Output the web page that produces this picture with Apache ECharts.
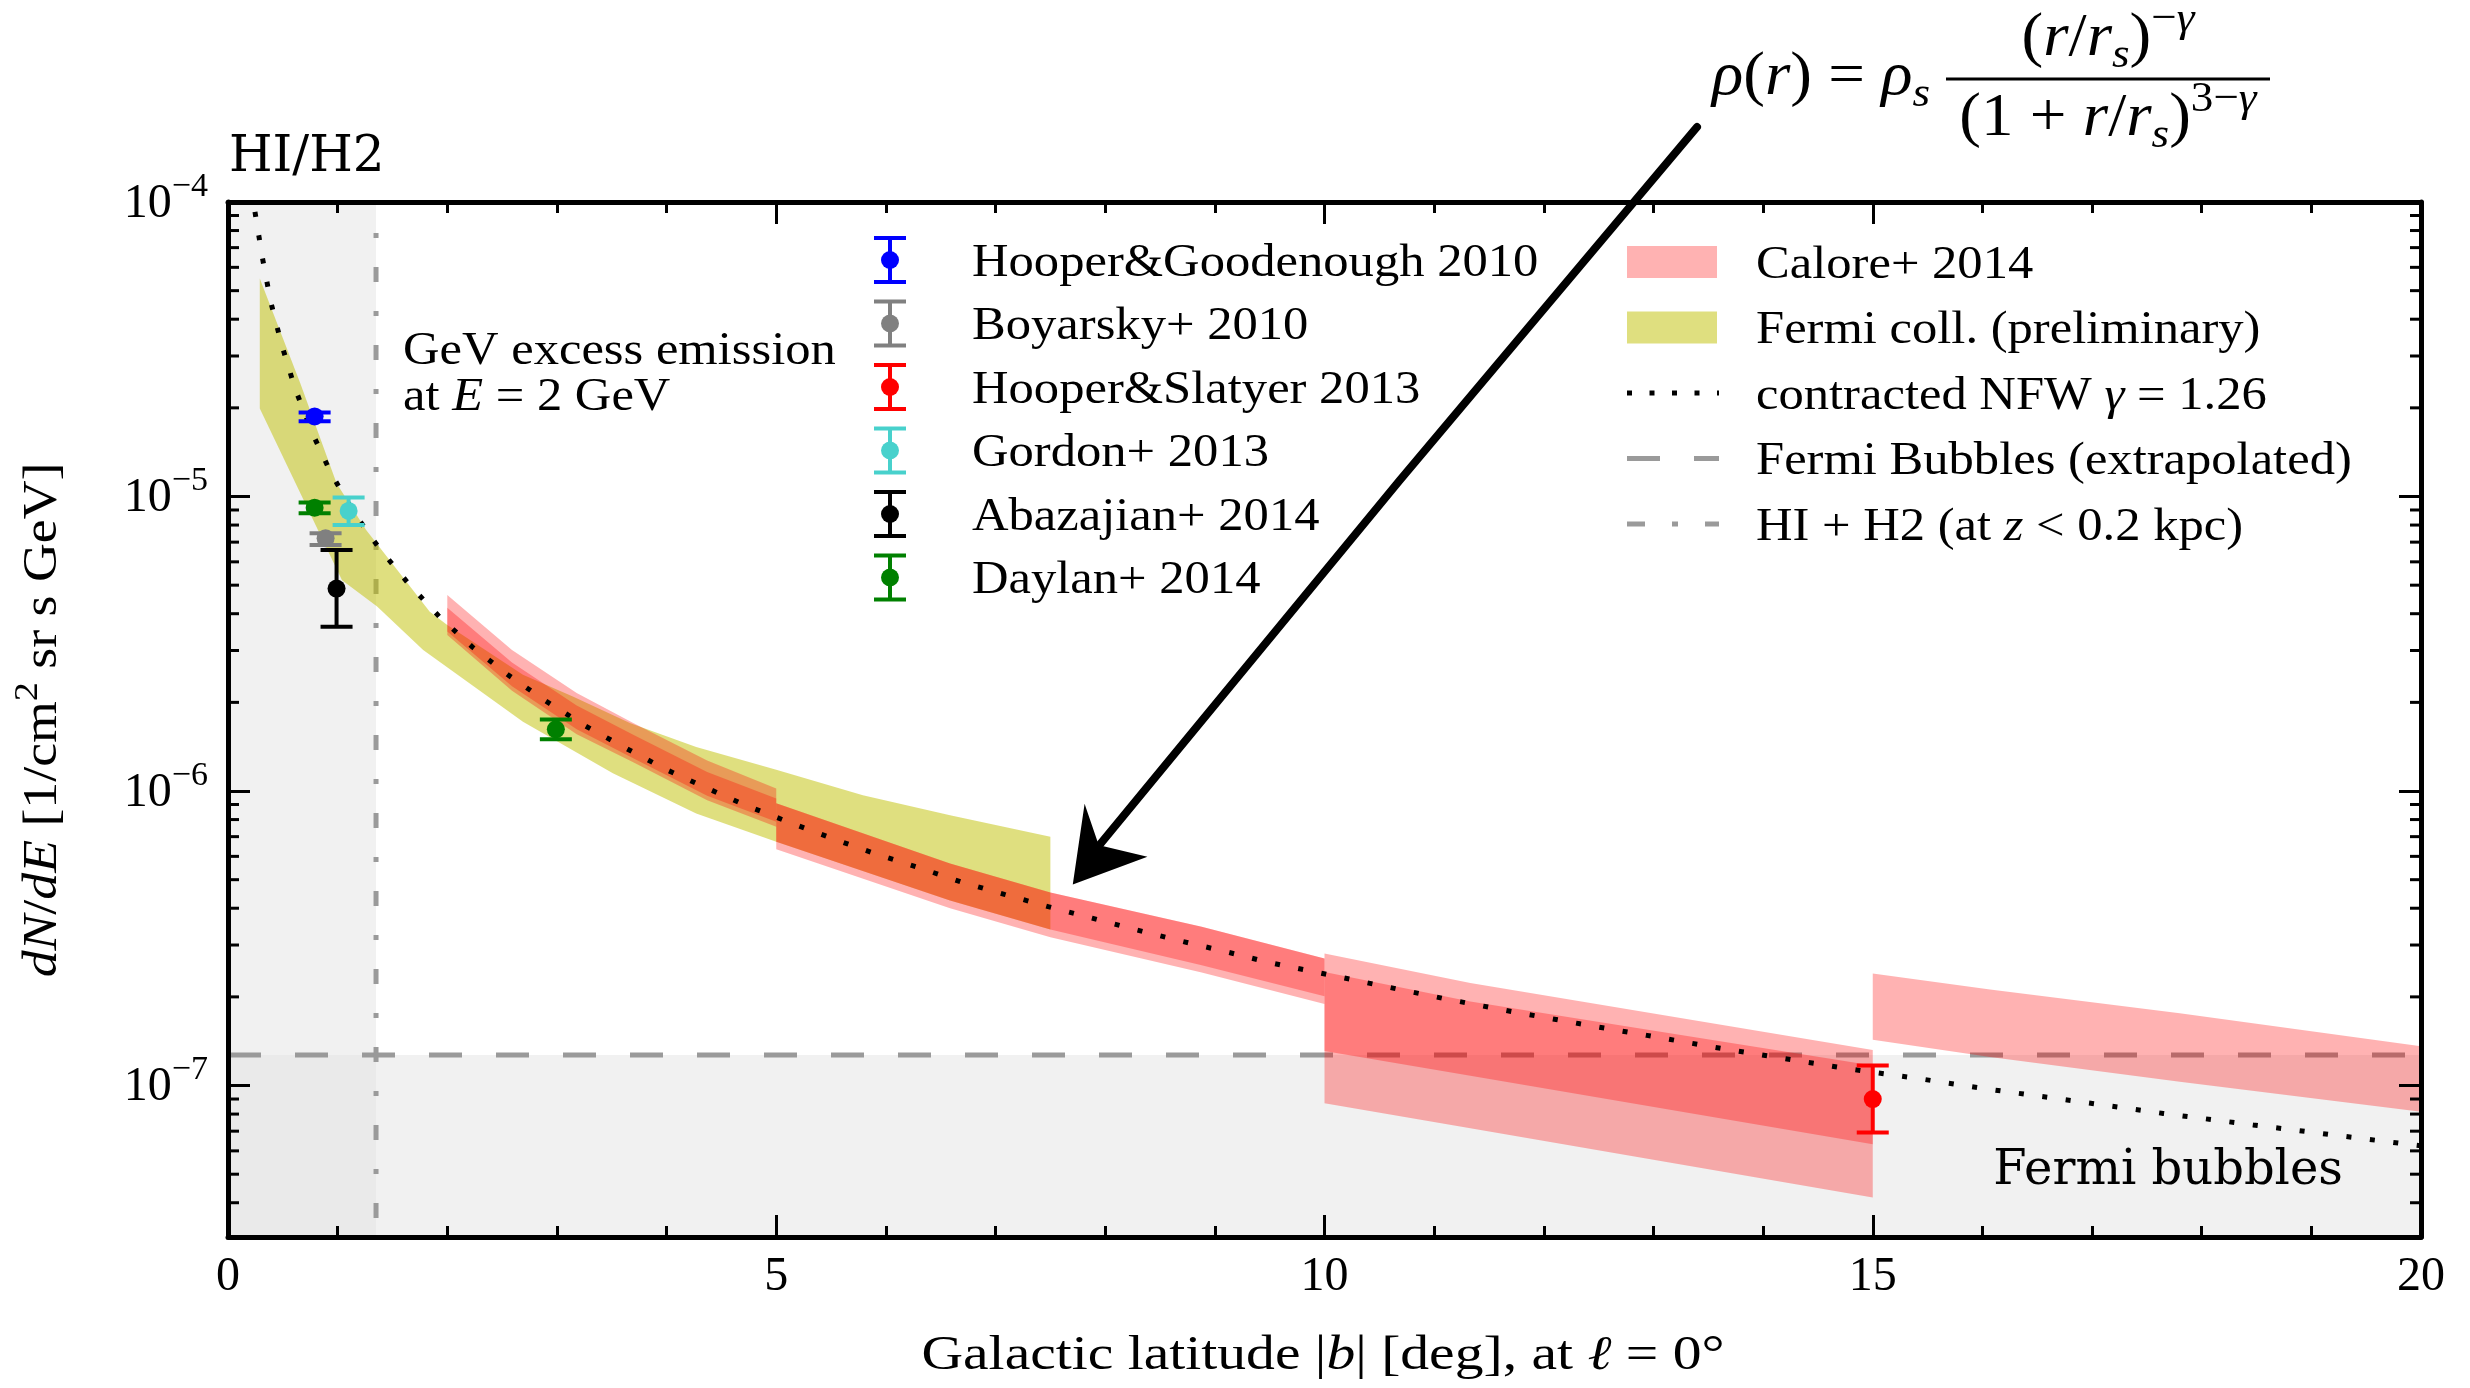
<!DOCTYPE html>
<html><head><meta charset="utf-8">
<script src="https://cdn.jsdelivr.net/npm/echarts@6/dist/echarts.min.js"></script>
<style>html,body{margin:0;padding:0;background:#fff}#c{width:2470px;height:1388px}</style>
</head><body><div id="c"></div><script>
// ---------------- DATA ----------------
const xTickValues = [0, 5, 10, 15, 20];
const yMin = 3.06e-8, yMax = 1e-4;
const yMinorTicks = [4e-8,5e-8,6e-8,7e-8,8e-8,9e-8, 2e-7,3e-7,4e-7,5e-7,6e-7,7e-7,8e-7,9e-7,
  2e-6,3e-6,4e-6,5e-6,6e-6,7e-6,8e-6,9e-6, 2e-5,3e-5,4e-5,5e-5,6e-5,7e-5,8e-5,9e-5];
const hiH2Edge = 1.35;          // HI + H2 (z < 0.2 kpc) boundary [deg]
const fermiBubbleLevel = 1.27e-7;

// contracted NFW gamma = 1.26 (dotted)
const nfwX = [0.246,0.313,0.389,0.49,0.611,0.763,0.937,1.143,1.38,1.644,1.927,2.23,2.56,2.90,3.25,3.61,3.98,4.35,4.73,5.12,5.51,5.89,6.29,6.68,7.08,7.48,7.88,8.28,8.68,9.08,9.49,9.89,10.5,11.1,11.72,12.33,12.94,13.55,14.16,14.78,15.39,16.01,16.83,17.65,18.47,19.29,20.0];
const nfwY = [9.25e-5,6.49e-5,4.59e-5,3.27e-5,2.33e-5,1.66e-5,1.205e-5,8.87e-6,6.67e-6,5.07e-6,3.91e-6,3.08e-6,2.47e-6,2.02e-6,1.67e-6,1.41e-6,1.19e-6,1.03e-6,8.91e-7,7.83e-7,6.90e-7,6.15e-7,5.51e-7,4.92e-7,4.46e-7,4.05e-7,3.70e-7,3.38e-7,3.10e-7,2.86e-7,2.62e-7,2.44e-7,2.19e-7,1.97e-7,1.78e-7,1.62e-7,1.48e-7,1.35e-7,1.24e-7,1.14e-7,1.06e-7,9.77e-8,8.87e-8,8.04e-8,7.35e-8,6.73e-8,6.24e-8];

// Fermi coll. (preliminary) band
const fermiTopX = [0.29,0.66,0.99,1.26,1.84,2.0,2.69,3.15,3.67,4.27,5.0,5.79,6.585,7.5];
const fermiTopY = [5.5e-5,2.42e-5,1.11e-5,7.69e-6,4.06e-6,3.66e-6,2.48e-6,2.09e-6,1.70e-6,1.41e-6,1.18e-6,9.68e-7,8.28e-7,7.0e-7];
const fermiBotX = [0.29,1.04,1.36,1.78,2.69,3.51,4.27,5.0,6.585,7.5];
const fermiBotY = [1.99e-5,5.2e-6,4.23e-6,3.01e-6,1.72e-6,1.15e-6,8.39e-7,6.73e-7,4.25e-7,3.39e-7];

// Calore+ 2014 bands (two overlapping translucent layers per latitude bin)
const calore2to5X = [2,2.59,3.18,3.70,4.37,5];
const calore2to5OuterHi = [4.63e-6,3.01e-6,2.15e-6,1.70e-6,1.27e-6,1.02e-6];
const calore2to5OuterLo = [3.39e-6,2.19e-6,1.56e-6,1.25e-6,9.3e-7,7.57e-7];
const calore2to5InnerHi = [4.19e-6,2.73e-6,1.95e-6,1.55e-6,1.16e-6,9.44e-7];
const calore2to5InnerLo = [3.48e-6,2.27e-6,1.62e-6,1.29e-6,9.64e-7,7.87e-7];

const calore5to10X = [5,6.585,7.5,8.88,10];
const calore5to10Hi = [9.08e-7,5.67e-7,4.52e-7,3.46e-7,2.7e-7];
const calore5to10OuterLo = [6.34e-7,4.0e-7,3.19e-7,2.42e-7,1.89e-7];
const calore5to10InnerLo = [6.73e-7,4.25e-7,3.39e-7,2.56e-7,2.01e-7];

const calore10to15X = [10,11.33,15];
const calore10to15OuterHi = [2.81e-7,2.23e-7,1.32e-7];
const calore10to15OuterLo = [8.7e-8,7.16e-8,4.17e-8];
const calore10to15InnerHi = [2.43e-7,1.93e-7,1.17e-7];
const calore10to15InnerLo = [1.31e-7,1.08e-7,6.32e-8];

const calore15to20X = [15,16.07,17.8,20];
const calore15to20Hi = [2.4e-7,2.12e-7,1.76e-7,1.36e-7];
const calore15to20Lo = [1.43e-7,1.25e-7,1.03e-7,8.15e-8];

// data points with error bars: [x, y, yLow, yHigh]
const hooperGoodenough2010 = [[0.79, 1.87e-5, 1.80e-5, 1.93e-5]];
const boyarsky2010 = [[0.89, 7.21e-6, 6.84e-6, 7.5e-6]];
const hooperSlatyer2013 = [[15.0, 9.0e-8, 6.93e-8, 1.17e-7]];
const gordon2013 = [[1.10, 8.93e-6, 8.0e-6, 9.93e-6]];
const abazajian2014 = [[0.99, 4.87e-6, 3.61e-6, 6.58e-6]];
const daylan2014 = [[0.79, 9.16e-6, 8.77e-6, 9.55e-6], [2.99, 1.62e-6, 1.50e-6, 1.75e-6]];

const legend1Names = ['Hooper&Goodenough 2010','Boyarsky+ 2010','Hooper&Slatyer 2013','Gordon+ 2013','Abazajian+ 2014','Daylan+ 2014'];
const legend2Names = ['Calore+ 2014','Fermi coll. (preliminary)','contracted NFW {i|γ}{n| = 1.26}','Fermi Bubbles (extrapolated)','HI + H2 (at {i|z}{n| < 0.2 kpc)}'];

// ---------------- STYLE ----------------
const FONT = '"Liberation Serif","Times New Roman",serif';
const RED = 'rgba(255,0,0,0.3)';
const YEL = 'rgba(191,191,0,0.5)';
const GRAYLINE = '#9a9a9a';
const pointColors = ['#0000ff','#808080','#ff0000','#48d1cc','#000000','#008000'];
const pointSets = [hooperGoodenough2010, boyarsky2010, hooperSlatyer2013, gordon2013, abazajian2014, daylan2014];

function richDefs(size) {
  const P = Math.round(size * 0.2), s = Math.round(size * 0.7);
  const base = {fontFamily: FONT, verticalAlign: 'bottom'};
  return {
    n: Object.assign({}, base, {fontSize: size, padding: [0,0,P,0]}),
    i: Object.assign({}, base, {fontSize: size, fontStyle: 'italic', padding: [0,0,P,0]}),
    sup: Object.assign({}, base, {fontSize: s, padding: [0,0,Math.round(P + 0.466*size),0]}),
    supi: Object.assign({}, base, {fontSize: s, fontStyle: 'italic', padding: [0,0,Math.round(P + 0.466*size),0]}),
    sub: Object.assign({}, base, {fontSize: s, padding: [0,0,Math.max(0,Math.round(P - 0.12*size)),0]}),
    subi: Object.assign({}, base, {fontSize: s, fontStyle: 'italic', padding: [0,0,Math.max(0,Math.round(P - 0.12*size)),0]})
  };
}
function txt(x, y, text, size, o) {
  o = o || {};
  return {type: 'text', x: x, y: y, scaleX: o.sx || 1, rotation: o.rot || 0, z: 100, silent: true,
    style: {text: text, fill: '#000', font: size + 'px ' + FONT, textAlign: o.align || 'left',
      textVerticalAlign: o.va || 'middle', rich: richDefs(size)}};
}

// ---------------- SERIES ----------------
function polySeries(xHi, yHi, xLo, yLo, color, z) {
  return {type: 'custom', z: z, silent: true, clip: true, xAxisIndex: 0, yAxisIndex: 0,
    data: [[xHi[0], yHi[0]]],
    renderItem: function (p, api) {
      const pts = [];
      for (let k = 0; k < xHi.length; k++) pts.push(api.coord([xHi[k], yHi[k]]));
      for (let k = xLo.length - 1; k >= 0; k--) pts.push(api.coord([xLo[k], yLo[k]]));
      return {type: 'polygon', shape: {points: pts}, style: {fill: color}};
    }};
}
function rectSeries(x0, x1, y0, y1, color, z) {
  return polySeries([x0, x1], [y1, y1], [x0, x1], [y0, y0], color, z);
}
function errSeries(data, color) {
  return {type: 'custom', z: 20, silent: true, xAxisIndex: 0, yAxisIndex: 0, data: data,
    encode: {x: 0, y: 1},
    renderItem: function (p, api) {
      const c = api.coord([api.value(0), api.value(1)]);
      const lo = api.coord([api.value(0), api.value(2)]);
      const hi = api.coord([api.value(0), api.value(3)]);
      const st = {stroke: color, lineWidth: 4};
      return {type: 'group', children: [
        {type: 'line', shape: {x1: c[0], y1: hi[1], x2: c[0], y2: lo[1]}, style: st},
        {type: 'line', shape: {x1: c[0]-16, y1: hi[1], x2: c[0]+16, y2: hi[1]}, style: st},
        {type: 'line', shape: {x1: c[0]-16, y1: lo[1], x2: c[0]+16, y2: lo[1]}, style: st},
        {type: 'circle', shape: {cx: c[0], cy: c[1], r: 9}, style: {fill: color}}
      ]};
    }};
}

const series = [];
// shaded regions
series.push(rectSeries(0, hiH2Edge, fermiBubbleLevel, yMax, '#f1f1f1', 1));
series.push(rectSeries(hiH2Edge, 20, yMin, fermiBubbleLevel, '#f1f1f1', 1));
series.push(rectSeries(0, hiH2Edge, yMin, fermiBubbleLevel, '#eaeaea', 1));
// reference lines
series.push({type: 'line', z: 2, silent: true, symbol: 'none', data: [[0, fermiBubbleLevel], [20, fermiBubbleLevel]],
  lineStyle: {color: GRAYLINE, width: 5, type: [33, 34], cap: 'butt'}});
series.push({type: 'line', z: 2, silent: true, symbol: 'none', data: [[hiH2Edge, yMin], [hiH2Edge, yMax]],
  lineStyle: {color: GRAYLINE, width: 5, type: [15, 29, 5, 29], dashOffset: 59, cap: 'butt'}});
// bands
series.push(polySeries(fermiTopX, fermiTopY, fermiBotX, fermiBotY, YEL, 3));
series.push(polySeries(calore2to5X, calore2to5OuterHi, calore2to5X, calore2to5OuterLo, RED, 4));
series.push(polySeries(calore2to5X, calore2to5InnerHi, calore2to5X, calore2to5InnerLo, RED, 4));
series.push(polySeries(calore5to10X, calore5to10Hi, calore5to10X, calore5to10OuterLo, RED, 4));
series.push(polySeries(calore5to10X, calore5to10Hi, calore5to10X, calore5to10InnerLo, RED, 4));
series.push(polySeries(calore10to15X, calore10to15OuterHi, calore10to15X, calore10to15OuterLo, RED, 4));
series.push(polySeries(calore10to15X, calore10to15InnerHi, calore10to15X, calore10to15InnerLo, RED, 4));
series.push(polySeries(calore15to20X, calore15to20Hi, calore15to20X, calore15to20Lo, RED, 4));
// NFW dotted
series.push({type: 'line', z: 10, silent: true, symbol: 'none', smooth: false,
  data: nfwX.map((x, k) => [x, nfwY[k]]),
  lineStyle: {color: '#000', width: 5, type: [5, 18.6], cap: 'butt'}});
// error bar points
pointSets.forEach((d, k) => series.push(errSeries(d, pointColors[k])));
// log minor ticks on left & right
series.push({type: 'custom', z: 30, silent: true, xAxisIndex: 0, yAxisIndex: 0,
  data: yMinorTicks.map(v => [0, v]),
  renderItem: function (p, api) {
    const l = api.coord([0, api.value(1)]), r = api.coord([20, api.value(1)]);
    const st = {stroke: '#000', lineWidth: 3};
    return {type: 'group', children: [
      {type: 'line', shape: {x1: l[0], y1: l[1], x2: l[0] + 11, y2: l[1]}, style: st},
      {type: 'line', shape: {x1: r[0], y1: r[1], x2: r[0] - 11, y2: r[1]}, style: st}
    ]};
  }});

// ---------------- AXES ----------------
const axLine = {show: true, onZero: false, lineStyle: {color: '#000', width: 5}};
const axTick = {show: true, inside: true, length: 22, lineStyle: {color: '#000', width: 3}};
function xAx(pos, showLabel) {
  return {type: 'value', position: pos, min: 0, max: 20, interval: 5, z: 10,
    axisLine: axLine, axisTick: axTick,
    minorTick: {show: true, splitNumber: 5, length: 11, lineStyle: {color: '#000', width: 3}},
    splitLine: {show: false}, minorSplitLine: {show: false},
    axisLabel: {show: showLabel, color: '#000', fontFamily: FONT, fontSize: 48, margin: 16,
      formatter: v => xTickValues.indexOf(v) >= 0 ? String(v) : ''}};
}
function yAx(pos, showLabel) {
  return {type: 'log', logBase: 10, position: pos, min: yMin, max: yMax, z: 10,
    axisLine: axLine, axisTick: axTick, splitLine: {show: false},
    axisLabel: {show: showLabel, showMinLabel: false, margin: 20, color: '#000',
      formatter: function (v) {
        const e = Math.log10(v), r = Math.round(e);
        if (Math.abs(e - r) > 0.01) return '';
        return '{b|10}{s|\u2212' + Math.abs(r) + '}';
      },
      rich: {
        b: {fontFamily: FONT, fontSize: 48, color: '#000', verticalAlign: 'bottom', padding: [0, 0, 6, 0]},
        s: {fontFamily: FONT, fontSize: 34, color: '#000', verticalAlign: 'bottom', padding: [0, 0, 30, 0]}
      }}};
}

// ---------------- GRAPHIC (annotations, legends) ----------------
const g = [];
const TDY = 8; // compensates rich-text bottom padding
// legend 1 (error-bar points)
const l1Y = [260, 323.5, 387, 450.5, 514, 577.5];
legend1Names.forEach((nm, k) => {
  const cx = 890, cy = l1Y[k], col = pointColors[k];
  const st = {stroke: col, lineWidth: 4};
  g.push({type: 'line', z: 100, shape: {x1: cx, y1: cy - 22, x2: cx, y2: cy + 22}, style: st});
  g.push({type: 'line', z: 100, shape: {x1: cx - 16, y1: cy - 22, x2: cx + 16, y2: cy - 22}, style: st});
  g.push({type: 'line', z: 100, shape: {x1: cx - 16, y1: cy + 22, x2: cx + 16, y2: cy + 22}, style: st});
  g.push({type: 'circle', z: 100, shape: {cx: cx, cy: cy, r: 9}, style: {fill: col}});
  g.push(txt(972, cy + TDY, '{n|' + nm + '}', 46, {sx: 1.1}));
});
// legend 2 (bands & lines)
const l2Y = [262, 327.5, 393, 458.5, 524];
g.push({type: 'rect', z: 100, shape: {x: 1627, y: l2Y[0] - 16, width: 90, height: 32}, style: {fill: RED}});
g.push({type: 'rect', z: 100, shape: {x: 1627, y: l2Y[1] - 16, width: 90, height: 32}, style: {fill: YEL}});
g.push({type: 'line', z: 100, shape: {x1: 1627, y1: l2Y[2], x2: 1719, y2: l2Y[2]}, style: {stroke: '#000', lineWidth: 5, lineDash: [5, 17.5]}});
g.push({type: 'line', z: 100, shape: {x1: 1627, y1: l2Y[3], x2: 1719, y2: l2Y[3]}, style: {stroke: GRAYLINE, lineWidth: 5, lineDash: [33, 34]}});
g.push({type: 'line', z: 100, shape: {x1: 1627, y1: l2Y[4], x2: 1719, y2: l2Y[4]}, style: {stroke: GRAYLINE, lineWidth: 5, lineDash: [18, 27, 6, 27]}});
legend2Names.forEach((nm, k) => {
  const t = nm.indexOf('{') >= 0 ? '{n|' + nm.slice(0, nm.indexOf('{')) + '}' + nm.slice(nm.indexOf('{')) : '{n|' + nm + '}';
  g.push(txt(1756, l2Y[k] + TDY, t, 46, {sx: 1.1}));
});
// annotations
g.push({type: 'text', x: 229, y: 158, z: 100, silent: true, style: {text: 'HI/H2', font: '50px "DejaVu Serif"', fill: '#000', textAlign: 'left', textVerticalAlign: 'middle'}});
g.push({type: 'text', x: 2343, y: 1172, z: 100, silent: true, style: {text: 'Fermi bubbles', font: '48px "DejaVu Serif"', fill: '#000', textAlign: 'right', textVerticalAlign: 'middle'}});
g.push(txt(403, 348 + TDY, '{n|GeV excess emission}', 46, {sx: 1.1}));
g.push(txt(403, 394 + TDY, '{n|at }{i|E}{n| = 2 GeV}', 46, {sx: 1.1}));
// axis titles
g.push(txt(1323, 1361, '{n|Galactic latitude |}{i|b}{n|| [deg], at }{i|\u2113}{n| = 0\u00b0}', 48, {sx: 1.2, align: 'center'}));
g.push(txt(44, 720, '{i|dN}{n|/}{i|dE}{n| [1/cm}{sup|2}{n| sr s GeV]}', 48, {sx: 1.12, align: 'center', rot: Math.PI / 2}));
// formula
g.push(txt(1712, 84, '{i|\u03c1}{n|(}{i|r}{n|) = }{i|\u03c1}{subi|s}', 62, {sx: 1.05}));
g.push(txt(2108, 40, '{n|(}{i|r}{n|/}{i|r}{subi|s}{n|)}{sup|\u2212}{supi|\u03b3}', 62, {sx: 1.05, align: 'center'}));
g.push({type: 'line', z: 100, shape: {x1: 1946, y1: 79, x2: 2270, y2: 79}, style: {stroke: '#000', lineWidth: 3}});
g.push(txt(2108, 120, '{n|(1 + }{i|r}{n|/}{i|r}{subi|s}{n|)}{sup|3\u2212}{supi|\u03b3}', 62, {sx: 1.05, align: 'center'}));
// arrow
g.push({type: 'polyline', z: 100, shape: {points: [[1697, 127], [1400, 480], [1097, 848]]}, style: {stroke: '#000', lineWidth: 8, lineCap: 'round', fill: null}});
g.push({type: 'polygon', z: 100, shape: {points: [[1085, 808], [1098, 846], [1144, 857], [1074, 883]]}, style: {fill: '#000', stroke: '#000', lineWidth: 2}});

const option = {
  backgroundColor: '#fff',
  animation: false,
  grid: {left: 228, right: 49, top: 202, bottom: 151, containLabel: false},
  xAxis: [xAx('bottom', true), xAx('top', false)],
  yAxis: [yAx('left', true), yAx('right', false)],
  series: series,
  graphic: g
};
const chart = echarts.init(document.getElementById('c'), null, {renderer: 'canvas'});
chart.setOption(option);
</script></body></html>
